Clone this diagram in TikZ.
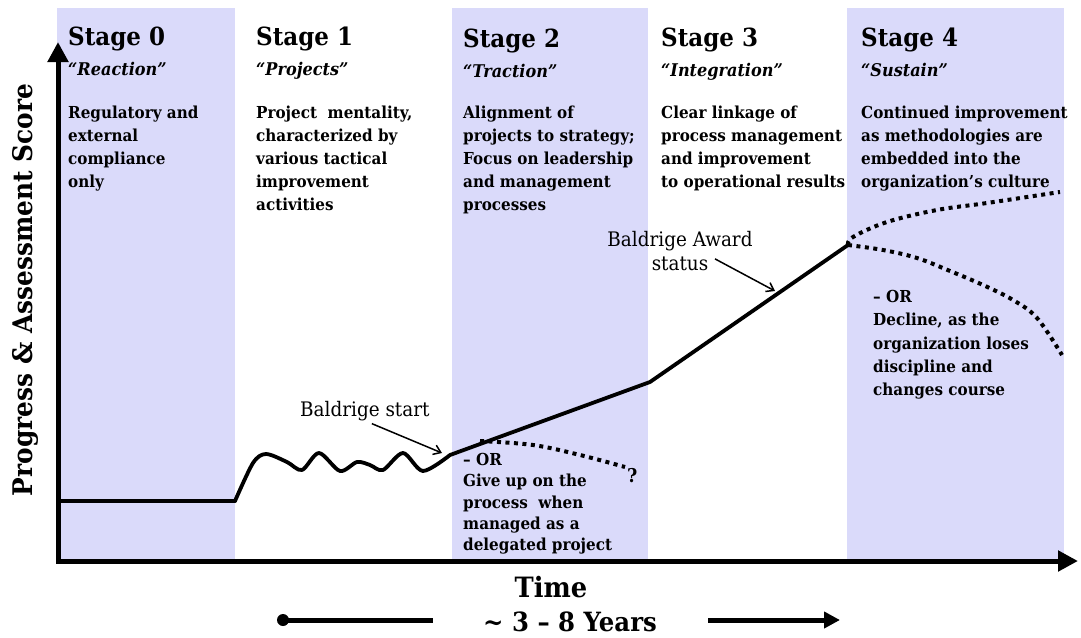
\documentclass[tikz,border=0pt]{standalone}
\usepackage{fontspec}
\setmainfont{DejaVu Serif}[FakeStretch=0.92]
\usetikzlibrary{arrows.meta}
\definecolor{bandcol}{RGB}{218,218,250}
\begin{document}
\begin{tikzpicture}[x=1pt,y=-1pt,
  band/.style={fill=bandcol,draw=none},
  stagetitle/.style={anchor=base west,inner sep=0pt,font=\fontsize{25}{30}\selectfont\bfseries},
  stagesub/.style={anchor=base west,inner sep=0pt,font=\fontsize{17.5}{21}\selectfont\bfseries\itshape},
  stagebody/.style={anchor=north west,inner sep=0pt,align=left,font=\fontsize{16.5}{23}\selectfont\bfseries},
  orbody/.style={anchor=north west,inner sep=0pt,align=left,font=\fontsize{16.5}{21.3}\selectfont\bfseries},
  orbodyb/.style={anchor=north west,inner sep=0pt,align=left,font=\fontsize{16.5}{23.3}\selectfont\bfseries},
  note/.style={inner sep=0pt,font=\fontsize{20}{24}\selectfont},
  axisline/.style={line width=5pt,-{Triangle[length=20pt,width=20pt]}},
  curve/.style={line width=3.8pt,line join=round,line cap=round},
  dotline/.style={line width=4pt,dash pattern=on 4pt off 4.5pt},
  pointer/.style={line width=1.5pt,-{Straight Barb[length=7pt,width=10pt]}},
  biglabel/.style={inner sep=0pt,font=\fontsize{28}{32}\selectfont\bfseries}]
\useasboundingbox (0,0) rectangle (1081,637);
% bands
\fill[band] (57,8) rectangle (235,561);
\fill[band] (452,8) rectangle (648,561);
\fill[band] (847,8) rectangle (1064,561);
% stage texts
\node[stagetitle] (s0) at (68,45) {Stage 0};
\node[stagesub] (q0) at (68,75) {“Reaction”};
\node[stagebody] (b0) at (68,105.5) {Regulatory and\\external\\compliance\\only};
\node[stagetitle] (s1) at (256,45) {Stage 1};
\node[stagesub] (q1) at (256,75) {“Projects”};
\node[stagebody] (b1) at (256,105.5) {Project\ \ mentality,\\characterized by\\various tactical\\improvement\\activities};
\node[stagetitle] (s2) at (463,47) {Stage 2};
\node[stagesub] (q2) at (463,77) {“Traction”};
\node[stagebody] (b2) at (463,105.5) {Alignment of\\projects to strategy;\\Focus on leadership\\and management\\processes};
\node[stagetitle] (s3) at (661,46) {Stage 3};
\node[stagesub] (q3) at (661,76) {“Integration”};
\node[stagebody] (b3) at (661,105.5) {Clear linkage of\\process management\\and improvement\\to operational results};
\node[stagetitle] (s4) at (861,46) {Stage 4};
\node[stagesub] (q4) at (861,76) {“Sustain”};
\node[stagebody] (b4) at (861,105.5) {Continued improvement\\as methodologies are\\embedded into the\\organization’s culture};
% curve
\coordinate (c0) at (58,501);
\coordinate (c1) at (235,501);
\coordinate (c2) at (450,455);
\coordinate (c3) at (650,382);
\coordinate (peak) at (848,245);
\draw[curve] (c0) -- (c1);
\draw[curve] plot[smooth,tension=0.5] coordinates {(c1) (253,463) (266,454) (287,462) (302,470) (319,453) (340,471) (357,462) (370,465) (383,470) (403,453) (423,471) (c2)};
\draw[curve] (c2) -- (c3) -- (peak);
\draw[dotline] plot[smooth,tension=0.6] coordinates {(480,441) (533,445) (580,455) (625,467)};
\draw[dotline] plot[smooth,tension=0.6] coordinates {(peak) (853,237) (887,222) (937,210) (987,203) (1060,192)};
\draw[dotline] plot[smooth,tension=0.6] coordinates {(peak) (883,250) (917,258) (950,271) (983,285) (1013,300) (1037,318) (1062,355)};
\node[anchor=base west,inner sep=0pt,font=\fontsize{19}{20}\selectfont\bfseries] (qm) at (627,482) {?};
% notes
\node[note,anchor=base west] (bs) at (300,416) {Baldrige start};
\coordinate (bstip) at (442,453);
\draw[pointer] ([xshift=7pt,yshift=-3pt]bs.south) -- (bstip);
\node[note,anchor=north,align=center] (ba) at (680,231) {Baldrige Award\\status};
\coordinate (batip) at (775,291);
\draw[pointer] ([xshift=35pt,yshift=12pt]ba.south) -- (batip);
\node[orbody] (or2) at (463,453) {– OR\\Give up on the\\process\ \ when\\managed as a\\delegated project};
\node[orbodyb] (or4) at (873,290) {– OR\\Decline, as the\\organization loses\\discipline and\\changes course};
% axes
\coordinate (O) at (58,563);
\coordinate (ytop) at (58,42);
\coordinate (xl) at (56,561);
\coordinate (xr) at (1078,561);
\draw[axisline] (O) -- (ytop);
\draw[axisline] (xl) -- (xr);
\node[biglabel,rotate=90,font=\fontsize{27}{30}\selectfont\bfseries] (ylab) at (25,290) {Progress \& Assessment Score};
\node[biglabel,anchor=base] (time) at (551,597) {Time};
\node[biglabel,anchor=base,font=\fontsize{26.5}{30}\selectfont\bfseries] (yrs) at (570,631) {\textasciitilde\ 3 – 8 Years};
% timeline
\coordinate (tl0) at (283,620);
\coordinate (tl1) at (433,620);
\coordinate (tr0) at (708,620);
\coordinate (tr1) at (840,620);
\fill (tl0) circle (6pt);
\draw[line width=5pt] (tl0) -- (tl1);
\draw[line width=5pt,-{Triangle[length=16pt,width=16pt]}] (tr0) -- (tr1);
\end{tikzpicture}
\end{document}
